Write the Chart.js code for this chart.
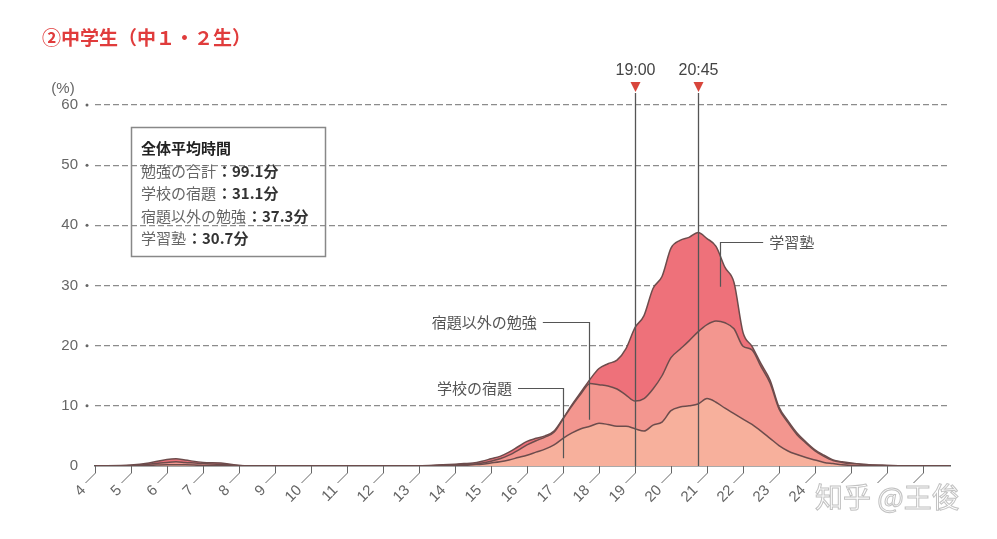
<!DOCTYPE html>
<html>
<head>
<meta charset="utf-8">
<script src="https://cdn.jsdelivr.net/npm/chart.js@4"></script>
<style>
  html, body { margin: 0; padding: 0; background: #fff; }
  #wrap { width: 997px; height: 539px; position: relative; }
</style>
</head>
<body>
<div id="wrap"><canvas id="studyChart"></canvas></div>
<script>
// time of day (hours) and share of students (%) doing each activity
const hours = [4, 5, 5.5, 6, 6.25, 6.5, 7, 7.5, 8, 8.5, 13, 13.5,
  14, 14.25, 14.5, 14.75, 15, 15.25, 15.5, 15.75, 16, 16.25, 16.5, 16.75,
  17, 17.25, 17.5, 17.75, 18, 18.25, 18.5, 18.75, 19, 19.25, 19.5, 19.75,
  20, 20.25, 20.5, 20.75, 21, 21.25, 21.5, 21.75, 22, 22.25, 22.5, 22.75,
  23, 23.25, 23.5, 23.75, 24, 24.25, 24.5, 24.75, 25, 25.5, 26, 27, 27.75];
const schoolHomework = [0, 0.05, 0.1, 0.2, 0.2, 0.2, 0.1, 0.1, 0, 0, 0, 0.05,
  0.1, 0.1, 0.2, 0.3, 0.5, 0.7, 1.0, 1.4, 1.8, 2.3, 2.8, 3.5,
  4.6, 5.5, 6.2, 6.6, 7.1, 6.9, 6.6, 6.6, 6.2, 5.8, 6.8, 7.3,
  9.2, 9.8, 10.0, 10.3, 11.2, 10.6, 9.6, 8.7, 7.8, 6.9, 5.8, 4.6,
  3.4, 2.5, 1.9, 1.4, 1.0, 0.6, 0.4, 0.2, 0.1, 0.05, 0, 0, 0];
const otherStudy = [0, 0.05, 0.2, 0.4, 0.5, 0.4, 0.3, 0.2, 0.1, 0, 0, 0.05,
  0.1, 0.2, 0.1, 0.2, 0.3, 0.5, 0.8, 1.2, 1.7, 1.9, 2.0, 2.1,
  3.2, 4.5, 5.8, 7.1, 6.4, 6.4, 6.2, 5.2, 4.6, 5.4, 6.0, 7.7,
  8.8, 9.6, 10.8, 12.0, 12.3, 13.5, 14.2, 14.1, 12.1, 12.4, 10.7, 9.2,
  6.1, 4.7, 3.3, 2.4, 1.5, 1.0, 0.5, 0.4, 0.3, 0.15, 0.1, 0, 0];
const cramSchool = [0, 0.05, 0.2, 0.5, 0.5, 0.4, 0.2, 0.2, 0, 0, 0.05, 0.05,
  0.1, 0.1, 0.2, 0.3, 0.4, 0.4, 0.5, 0.6, 0.6, 0.4, 0.2, 0.2,
  0.1, 0.2, 0.3, 0.7, 2.7, 3.7, 4.8, 7.7, 12.2, 13.8, 16.7, 16.5,
  18.2, 18.1, 17.2, 16.5, 14.3, 12.4, 9.2, 7.7, 2.3, 0.6, 0.5, 0.5,
  0.3, 0.3, 0.3, 0.2, 0.2, 0.2, 0.1, 0.1, 0.1, 0, 0, 0, 0];

const seriesLabels = ['学校の宿題', '宿題以外の勉強', '学習塾'];
const yTicks = [0, 10, 20, 30, 40, 50, 60];
const xTickHours = [4, 5, 6, 7, 8, 9, 10, 11, 12, 13, 14, 15, 16, 17, 18, 19, 20, 21, 22, 23, 24, 25, 26, 27];
const xTickLabels = ['4', '5', '6', '7', '8', '9', '10', '11', '12', '13', '14', '15', '16', '17', '18', '19', '20', '21', '22', '23', '24', '', '', ''];
const markerHours = [19, 20.75];
const markerLabels = ['19:00', '20:45'];
const summaryTitle = '全体平均時間';
const summaryNames = ['勉強の合計', '学校の宿題', '宿題以外の勉強', '学習塾'];
const summaryValues = ['99.1分', '31.1分', '37.3分', '30.7分'];

const JP = '"Noto Sans CJK JP", sans-serif';
const NUM = '"Liberation Sans", "Noto Sans CJK JP", sans-serif';

// callouts: bend point (hour, %) -> down to bottom %, horizontal arm to armHour
const callouts = [
  { text: seriesLabels[2], hour: 21.36, top: 37.3, bottom: 29.8, armHour: 22.56, side: 'right' },
  { text: seriesLabels[1], hour: 17.72, top: 24.0, bottom: 7.7, armHour: 16.44, side: 'left' },
  { text: seriesLabels[0], hour: 17.0, top: 13.0, bottom: 1.3, armHour: 15.75, side: 'left' }
];

const decor = {
  id: 'decor',
  afterDatasetsDraw(chart) {
    const { ctx, chartArea: a, scales: { x, y } } = chart;
    ctx.save();
    // time markers
    markerHours.forEach((h, i) => {
      const px = Math.round(x.getPixelForValue(h)) + 0.5;
      ctx.strokeStyle = '#555';
      ctx.lineWidth = 1.3;
      ctx.beginPath();
      ctx.moveTo(px, a.top - 12);
      ctx.lineTo(px, a.bottom);
      ctx.stroke();
      ctx.fillStyle = '#d8453b';
      ctx.beginPath();
      ctx.moveTo(px - 5, a.top - 23);
      ctx.lineTo(px + 5, a.top - 23);
      ctx.lineTo(px, a.top - 13);
      ctx.closePath();
      ctx.fill();
      ctx.fillStyle = '#444';
      ctx.font = '16px ' + NUM;
      ctx.textAlign = 'center';
      ctx.textBaseline = 'middle';
      ctx.fillText(markerLabels[i], px, a.top - 34);
    });

    // callouts
    ctx.strokeStyle = '#555';
    ctx.lineWidth = 1.2;
    ctx.font = '15px ' + JP;
    ctx.fillStyle = '#555';
    ctx.textBaseline = 'middle';
    callouts.forEach(c => {
      const px = Math.round(x.getPixelForValue(c.hour)) + 0.5;
      const py = Math.round(y.getPixelForValue(c.top)) + 0.5;
      const ax = x.getPixelForValue(c.armHour);
      ctx.beginPath();
      ctx.moveTo(ax, py);
      ctx.lineTo(px, py);
      ctx.lineTo(px, y.getPixelForValue(c.bottom));
      ctx.stroke();
      if (c.side === 'right') {
        ctx.textAlign = 'left';
        ctx.fillText(c.text, ax + 6, py);
      } else {
        ctx.textAlign = 'right';
        ctx.fillText(c.text, ax - 6, py);
      }
    });
    ctx.restore();
  },
  afterDraw(chart) {
    const { ctx, chartArea: a, scales: { x, y } } = chart;
    ctx.save();

    // title
    ctx.fillStyle = '#e03c3c';
    ctx.font = 'bold 19px ' + JP;
    ctx.textAlign = 'left';
    ctx.textBaseline = 'middle';
    ctx.fillText('②中学生（中１・２生）', 42, 38);

    // y labels and dots
    ctx.fillStyle = '#666';
    ctx.font = '15px ' + NUM;
    ctx.textAlign = 'right';
    yTicks.forEach(v => {
      const py = y.getPixelForValue(v);
      ctx.fillText(String(v), a.left - 17, py);
      if (v > 0) {
        ctx.beginPath();
        ctx.arc(a.left - 8, py, 1.5, 0, Math.PI * 2);
        ctx.fill();
      }
    });
    ctx.textAlign = 'center';
    ctx.fillText('(%)', a.left - 32, a.top - 16);

    // x ticks with slanted leaders and rotated labels
    ctx.strokeStyle = '#666';
    ctx.lineWidth = 1;
    xTickHours.forEach((h, i) => {
      const px = Math.round(x.getPixelForValue(h)) + 0.5;
      ctx.beginPath();
      ctx.moveTo(px, a.bottom);
      ctx.lineTo(px, a.bottom + 7);
      ctx.lineTo(px - 10, a.bottom + 17);
      ctx.stroke();
      if (xTickLabels[i]) {
        ctx.save();
        ctx.translate(px - 12, a.bottom + 22);
        ctx.rotate(-Math.PI / 4);
        ctx.textAlign = 'right';
        ctx.textBaseline = 'middle';
        ctx.font = '15px ' + NUM;
        ctx.fillStyle = '#666';
        ctx.fillText(xTickLabels[i], 0, 0);
        ctx.restore();
      }
    });

    // summary box
    ctx.strokeStyle = '#888';
    ctx.lineWidth = 1.5;
    ctx.strokeRect(131.5, 127.5, 194, 129);
    ctx.textAlign = 'left';
    ctx.fillStyle = '#222';
    ctx.font = 'bold 15px ' + JP;
    ctx.fillText(summaryTitle, 141, 148);
    summaryNames.forEach((name, i) => {
      const ty = 171 + i * 22.5;
      ctx.font = '15px ' + JP;
      ctx.fillStyle = '#666';
      ctx.fillText(name, 141, ty);
      const w = ctx.measureText(name).width;
      ctx.font = 'bold 15px ' + JP;
      ctx.fillStyle = '#333';
      ctx.fillText('：' + summaryValues[i], 141 + w + 1, ty);
    });

    // watermark
    ctx.font = '28px "Noto Sans CJK SC", sans-serif';
    ctx.textBaseline = 'middle';
    ctx.fillStyle = 'rgba(255,255,255,0.9)';
    ctx.strokeStyle = '#c2c2c2';
    ctx.lineWidth = 1;
    ctx.fillText('知乎 @王俊', 815, 497);
    ctx.strokeText('知乎 @王俊', 815, 497);
    ctx.restore();
  }
};

const fills = ['#f7b09c', '#f3968f', '#ee717a'];
const seriesData = [schoolHomework, otherStudy, cramSchool];

new Chart(document.getElementById('studyChart'), {
  type: 'line',
  data: {
    datasets: seriesData.map((vals, k) => ({
      label: seriesLabels[k],
      data: hours.map((h, i) => ({ x: h, y: vals[i] })),
      backgroundColor: fills[k],
      borderColor: '#6d4c4c',
      borderWidth: 1.5,
      pointRadius: 0,
      cubicInterpolationMode: 'monotone',
      fill: k === 0 ? 'origin' : '-1'
    }))
  },
  options: {
    responsive: true,
    maintainAspectRatio: false,
    animation: false,
    layout: { padding: { top: 105, right: 47, left: 0, bottom: 0 } },
    plugins: { legend: { display: false }, tooltip: { enabled: false } },
    scales: {
      x: {
        type: 'linear',
        min: 4,
        max: 27.75,
        ticks: { display: false },
        grid: { display: false, drawTicks: false },
        border: { display: true, color: '#555', width: 1.5 },
        afterFit: (scale) => { scale.height = 73; }
      },
      y: {
        stacked: true,
        min: 0,
        max: 60,
        ticks: { display: false, stepSize: 10 },
        grid: {
          drawTicks: false,
          color: (c) => c.tick.value === 0 ? 'rgba(0,0,0,0)' : '#8c8c8c',
          lineWidth: 1.2
        },
        border: { display: false, dash: [6, 3] },
        afterFit: (scale) => { scale.width = 95; }
      }
    }
  },
  plugins: [decor]
});
</script>
</body>
</html>
